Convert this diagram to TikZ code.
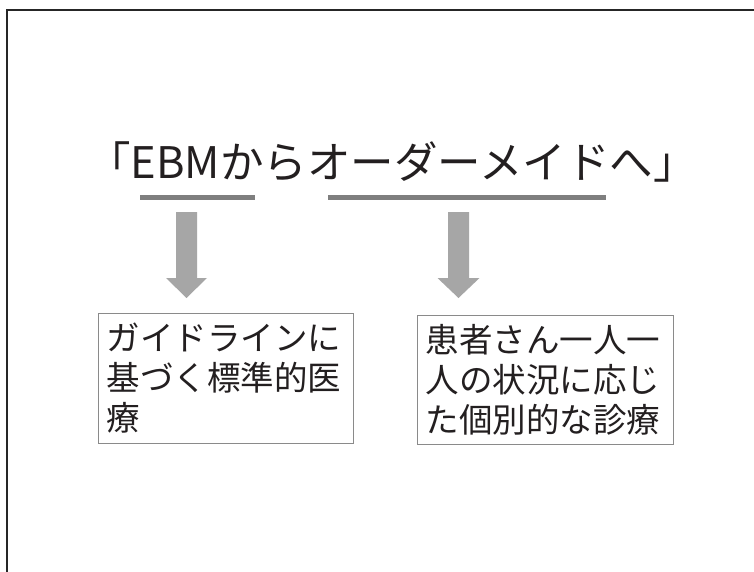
\documentclass[tikz,border=0pt]{standalone}
\usepackage{fontspec}
\setmainfont{Noto Sans CJK JP}
\newfontfamily\cjk{Noto Sans CJK JP}
\definecolor{framec}{HTML}{262626}
\definecolor{barc}{HTML}{7F7F7F}
\definecolor{arrowc}{HTML}{A6A6A6}
\definecolor{boxc}{HTML}{8A8A8A}
\definecolor{txt}{HTML}{231F20}
\begin{document}
\begin{tikzpicture}[x=1pt,y=-1pt,
  titlestyle/.style={inner sep=0pt, text=txt, font=\cjk\fontsize{43.5}{50}\selectfont},
  barstyle/.style={draw=barc, line width=5pt},
  blockarrow/.style={fill=arrowc},
  textbox/.style={draw=boxc, line width=1pt, anchor=north west, inner xsep=8pt, inner ysep=0pt,
    text width=239pt, minimum height=130pt, align=left, text=txt,
    font=\cjk\fontsize{33.5}{40}\selectfont}]
\useasboundingbox (0,0) rectangle (754,572);
\fill[white] (0,0) rectangle (754,572);
\draw[line width=2pt, framec] (7,572) -- (7,10.5) -- (754,10.5);
\node[titlestyle] (title) at (392,162) {「EBMからオーダーメイドへ」};
\coordinate (bar1a) at (140,197);
\coordinate (bar1b) at (255,197);
\coordinate (bar2a) at (328,197);
\coordinate (bar2b) at (606,197);
\draw[barstyle] (bar1a) -- (bar1b);
\draw[barstyle] (bar2a) -- (bar2b);
\coordinate (arr1) at (186.5,212);
\coordinate (arr2) at (458.5,212);
\fill[blockarrow] (arr1) ++(-10.5,0) -- ++(21,0) -- ++(0,66) -- ++(10,0) -- ++(-20.5,20) -- ++(-20.5,-20) -- ++(10,0) -- cycle;
\fill[blockarrow] (arr2) ++(-10.5,0) -- ++(21,0) -- ++(0,66) -- ++(10.5,0) -- ++(-21,20) -- ++(-21,-20) -- ++(10.5,0) -- cycle;
\node[textbox] (left) at (98,313) {ガイドラインに\\基づく標準的医\\療};
\node[textbox, text width=240pt, minimum height=129pt] (right) at (417,315) {患者さん一人一\\人の状況に応じ\\た個別的な診療};
\end{tikzpicture}
\end{document}
